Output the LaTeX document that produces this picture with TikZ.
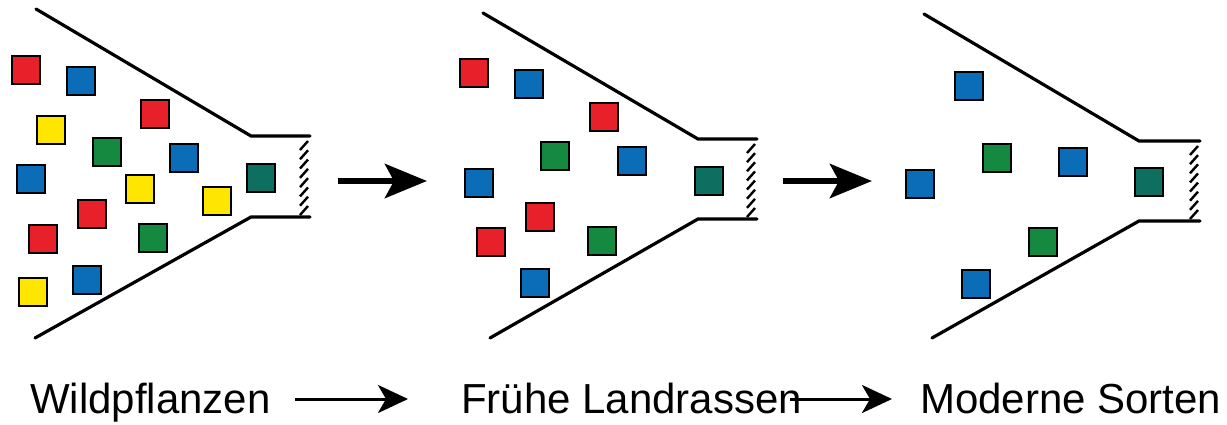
\documentclass[tikz,border=0pt]{standalone}
\usepackage{fontspec}
\setmainfont{Liberation Sans}
\usetikzlibrary{arrows.meta}
\definecolor{cred}{HTML}{E8202A}
\definecolor{cblue}{HTML}{0B6DB7}
\definecolor{cyellow}{HTML}{FFE600}
\definecolor{cgreen}{HTML}{14893F}
\definecolor{cteal}{HTML}{0E6E5F}
\tikzset{
  sq/.style={draw=black, line width=2.8pt, minimum size=28pt, inner sep=0pt, fill=#1},
  funnel/.style={line width=3.2pt, line cap=round},
  hatchline/.style={line width=2.4pt},
  bigarrow/.style={line width=6.5pt, -{Stealth[length=42pt,width=34pt,inset=9pt]}},
  textarrow/.style={line width=3pt, -{Stealth[length=30pt,width=28pt,inset=8pt]}},
  label/.style={font=\fontsize{42}{50}\selectfont, inner sep=0pt, anchor=base west}
}
\begin{document}
\begin{tikzpicture}[x=1pt,y=-1pt]
\useasboundingbox (0,0) rectangle (1227,424);
% funnels
\draw[funnel] (36,9) -- (251,136) -- (310,136);
\draw[funnel] (35,338) -- (251,217) -- (310,217);
\draw[funnel] (483,13) -- (698,139) -- (757,139);
\draw[funnel] (490,338) -- (698,219) -- (757,219);
\draw[funnel] (924,14) -- (1139,141) -- (1200,141);
\draw[funnel] (932,338) -- (1139,221) -- (1200,221);
% hatches
\foreach \xr/\yt/\yb in {310/138/215, 757/141/217, 1200/143/219}{
  \foreach \i in {0,...,7}{
    \pgfmathsetmacro{\yy}{\yt+3+\i*(\yb-\yt-12)/7}
    \draw[hatchline] (\xr-10,\yy+9) -- (\xr-2,\yy);
  }
}
% panel 1
\node[sq=cred]    (a1)  at (26,70) {};
\node[sq=cblue]   (a2)  at (81,81) {};
\node[sq=cyellow] (a3)  at (51,130) {};
\node[sq=cred]    (a4)  at (155,114) {};
\node[sq=cgreen]  (a5)  at (107,152) {};
\node[sq=cblue]   (a6)  at (184,158) {};
\node[sq=cblue]   (a7)  at (31,179) {};
\node[sq=cyellow] (a8)  at (140,189) {};
\node[sq=cyellow] (a9)  at (217,201) {};
\node[sq=cteal]   (a10) at (261,178) {};
\node[sq=cred]    (a11) at (92,214) {};
\node[sq=cred]    (a12) at (43,239) {};
\node[sq=cgreen]  (a13) at (153,238) {};
\node[sq=cblue]   (a14) at (87,280) {};
\node[sq=cyellow] (a15) at (33,292) {};
% panel 2
\node[sq=cred]    (b1)  at (474,73) {};
\node[sq=cblue]   (b2)  at (529,84) {};
\node[sq=cred]    (b3)  at (604,117) {};
\node[sq=cgreen]  (b4)  at (555,156) {};
\node[sq=cblue]   (b5)  at (632,161) {};
\node[sq=cblue]   (b6)  at (479,183) {};
\node[sq=cteal]   (b7)  at (709,181) {};
\node[sq=cred]    (b8)  at (540,217) {};
\node[sq=cred]    (b9)  at (491,242) {};
\node[sq=cgreen]  (b10) at (602,241) {};
\node[sq=cblue]   (b11) at (535,283) {};
% panel 3
\node[sq=cblue]   (c1) at (969,86) {};
\node[sq=cgreen]  (c2) at (997,158) {};
\node[sq=cblue]   (c3) at (1073,162) {};
\node[sq=cblue]   (c4) at (920,184) {};
\node[sq=cteal]   (c5) at (1149,182) {};
\node[sq=cgreen]  (c6) at (1043,242) {};
\node[sq=cblue]   (c7) at (976,284) {};
% big arrows
\coordinate (g1s) at (338,181); \coordinate (g1e) at (427,181);
\coordinate (g2s) at (783,181); \coordinate (g2e) at (872,181);
\draw[bigarrow] (g1s) -- (g1e);
\draw[bigarrow] (g2s) -- (g2e);
% labels
\node[label] (w) at (30,413) {Wildpflanzen};
\node[label] (f) at (461,413) {Frühe Landrassen};
\node[label] (m) at (920,413) {Moderne Sorten};
\coordinate (t1s) at (295,399); \coordinate (t1e) at (408,399);
\coordinate (t2s) at (790,399); \coordinate (t2e) at (892,399);
\draw[textarrow] (t1s) -- (t1e);
\draw[textarrow] (t2s) -- (t2e);
\end{tikzpicture}
\end{document}
